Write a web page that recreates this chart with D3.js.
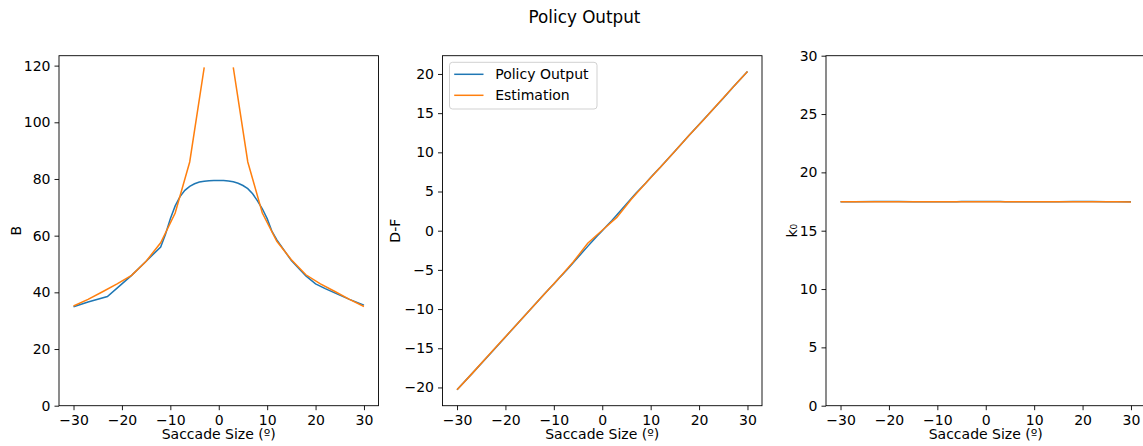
<html>

<head>
    <meta charset="utf-8">
    <style>
        body { margin: 0; background: #fff; }
        text { font-family: "DejaVu Sans", sans-serif; }
    </style>
</head>

<body>
    <svg id="fig"></svg>
</body>
<script src="https://cdn.jsdelivr.net/npm/d3@7"></script>
<script>
    // data
    let blueX = [-30, -27, -23, -20, -18, -15, -12, -11, -10, -9, -8, -7, -6, -5, -4, -3, -2, -1, 0,
        1, 2, 3, 4, 5, 6, 7, 8, 9, 10, 11, 12, 15, 18, 20, 22, 25, 27, 30]
    let orangeX = [-30, -27, -24, -21, -18, -15, -12, -9, -6, -3, 0, 3, 6, 9, 12, 15, 18, 21, 24, 27, 30]

    let policyB = [34.9, 36.6, 38.5, 43.0, 46.0, 51.0, 56.0, 60.5, 66.0, 70.5, 73.8, 76.0, 77.4, 78.3, 78.9, 79.2, 79.4, 79.5, 79.5,
        79.5, 79.3, 79.0, 78.5, 77.7, 76.6, 74.8, 72.3, 69.5, 66.0, 61.5, 58.5, 51.2, 45.8, 43.0, 41.3, 39.0, 37.5, 35.5]
    let estB = [35.2, 37.5, 40.2, 43.0, 46.0, 51.0, 57.5, 68.0, 86.0, 119.4, null, 119.4, 86.0, 68.0, 58.0, 51.5, 46.2, 43.0, 40.3, 37.5, 35.0]

    let policyDF = [-20.3, -18.3, -15.6, -13.55, -12.2, -10.15, -8.1, -7.45, -6.8, -6.1, -5.45, -4.8, -4.1, -3.4, -2.7, -2.0, -1.3, -0.65, 0,
        0.65, 1.3, 2.0, 2.7, 3.4, 4.1, 4.8, 5.45, 6.1, 6.8, 7.45, 8.1, 10.15, 12.2, 13.55, 14.9, 16.9, 18.3, 20.3]
    let estDF = [-20.3, -18.3, -16.25, -14.2, -12.2, -10.15, -8.1, -6.1, -4.0, -1.6, 0.05, 1.7, 4.0, 6.1, 8.1, 10.15, 12.2, 14.2, 16.25, 18.3, 20.3]

    let policyK = [17.48, 17.49, 17.5, 17.5, 17.5, 17.49, 17.49, 17.48, 17.48, 17.48, 17.48, 17.49, 17.49, 17.5, 17.5, 17.5, 17.5, 17.5, 17.5,
        17.5, 17.5, 17.5, 17.49, 17.49, 17.48, 17.48, 17.48, 17.48, 17.48, 17.48, 17.49, 17.49, 17.5, 17.5, 17.5, 17.49, 17.49, 17.48]
    let estK = [17.48, 17.48, 17.48, 17.48, 17.48, 17.48, 17.48, 17.48, 17.48, 17.48, 17.48, 17.48, 17.48, 17.48, 17.48, 17.48, 17.48, 17.48, 17.48, 17.48, 17.47]

    let xTicks = [-30, -20, -10, 0, 10, 20, 30]
    let panels = [
        { label: "B", policy: policyB, est: estB, ydomain: [0, 123.5], yticks: [0, 20, 40, 60, 80, 100, 120], labelX: -38 },
        { label: "D-F", policy: policyDF, est: estDF, ydomain: [-22.33, 22.33], yticks: [-20, -15, -10, -5, 0, 5, 10, 15, 20], legend: true, labelX: -42.5 },
        { label: "k\u2080", policy: policyK, est: estK, ydomain: [0, 30], yticks: [0, 5, 10, 15, 20, 25, 30], labelX: -29 }
    ]

    let width = 1143, height = 446
    let lefts = [59, 442.5, 826], pw = 319.5, panelTop = 55.7, ph = 350

    let svg = d3.select("#fig").attr("width", width).attr("height", height)

    svg.append("text").text("Policy Output")
        .attr("x", 584.5).attr("y", 23)
        .attr("text-anchor", "middle").attr("font-size", 16.8).attr("fill", "#000")

    panels.forEach((p, i) => {
        let g = svg.append("g").attr("transform", `translate(${lefts[i]},${panelTop})`)
        let x = d3.scaleLinear().domain([-33, 33]).range([0, pw])
        let y = d3.scaleLinear().domain(p.ydomain).range([ph, 0])

        let line = d3.line()
            .defined(d => d[1] != null)
            .x(d => x(d[0])).y(d => y(d[1]))

        g.append("path").datum(d3.zip(blueX, p.policy))
            .attr("d", line).attr("fill", "none").attr("stroke", "#1f77b4").attr("stroke-width", 1.5)
        g.append("path").datum(d3.zip(orangeX, p.est))
            .attr("d", line).attr("fill", "none").attr("stroke", "#ff7f0e").attr("stroke-width", 1.5)

        let xa = g.append("g").attr("transform", `translate(0,${ph})`)
            .call(d3.axisBottom(x).tickValues(xTicks).tickSize(4.5).tickPadding(5).tickSizeOuter(0))
        let ya = g.append("g")
            .call(d3.axisLeft(y).tickValues(p.yticks).tickSize(4.5).tickPadding(4).tickSizeOuter(0))
        ;[xa, ya].forEach(a => {
            a.attr("font-size", 14).attr("font-family", "DejaVu Sans")
            a.selectAll("text").attr("fill", "#000")
            a.selectAll("line").attr("stroke", "#000").attr("stroke-width", 0.9)
            a.select(".domain").remove()
        })

        g.append("rect").attr("width", pw).attr("height", ph)
            .attr("fill", "none").attr("stroke", "#000").attr("stroke-width", 0.9)

        g.append("text").text("Saccade Size (\u00ba)")
            .attr("x", pw / 2).attr("y", ph + 33.5)
            .attr("text-anchor", "middle").attr("font-size", 14)

        g.append("text").text(p.label)
            .attr("transform", `translate(${p.labelX},${ph / 2}) rotate(-90)`)
            .attr("text-anchor", "middle").attr("font-size", 14)

        if (p.legend) {
            let lg = g.append("g").attr("transform", "translate(7,6.6)")
            lg.append("rect").attr("width", 147.5).attr("height", 46.7).attr("rx", 3)
                .attr("fill", "#fff").attr("fill-opacity", 0.8).attr("stroke", "#ccc").attr("stroke-width", 0.9)
            let items = [["Policy Output", "#1f77b4"], ["Estimation", "#ff7f0e"]]
            items.forEach((it, k) => {
                let yy = 12 + k * 21
                lg.append("line").attr("x1", 4.7).attr("x2", 34).attr("y1", yy).attr("y2", yy)
                    .attr("stroke", it[1]).attr("stroke-width", 1.5)
                lg.append("text").text(it[0]).attr("x", 45.7).attr("y", yy + 5)
                    .attr("font-size", 14)
            })
        }
    })
</script>

</html>
